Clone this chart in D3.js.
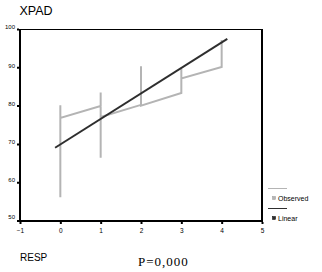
<!DOCTYPE html>
<html>
<head>
<meta charset="utf-8">
<script src="https://cdn.jsdelivr.net/npm/d3@7"></script>
<style>
  body { margin: 0; background: #fff; }
  svg { display: block; }
</style>
</head>
<body>
<div id="chart"></div>
<script>
// observed values, in the order SPSS joins them
const obsX = [0, 0, 0, 1, 1, 1, 1, 2, 2, 2, 3, 3, 3, 4, 4];
const obsY = [56.1, 80.1, 76.8, 79.9, 83.4, 66.4, 77.0, 80.2, 90.3, 80.0, 83.3, 89.7, 87.1, 90.1, 97.1];

// linear fit, end points
const fitX = [-0.13, 4.14];
const fitY = [69.0, 97.4];

const xTicks = [-1, 0, 1, 2, 3, 4, 5];
const yTicks = [50, 60, 70, 80, 90, 100];

const width = 322;
const height = 272;
const plot = { l: 20, r: 262, t: 29, b: 221 };

const svg = d3
  .select('#chart')
  .append('svg')
  .attr('width', width)
  .attr('height', height);

const x = d3.scaleLinear().domain([-1, 5]).range([plot.l, plot.r]);
const y = d3.scaleLinear().domain([50, 100]).range([plot.b - 0.5, plot.t]);

// frame: thin top, thick other sides
svg
  .append('line')
  .attr('x1', plot.l)
  .attr('x2', plot.r)
  .attr('y1', plot.t + 0.5)
  .attr('y2', plot.t + 0.5)
  .attr('stroke', '#000')
  .attr('stroke-width', 1);

svg
  .append('path')
  .attr('d', `M${plot.l},${plot.t}V${plot.b}H${plot.r}V${plot.t}`)
  .attr('fill', 'none')
  .attr('stroke', '#000')
  .attr('stroke-width', 2);

const tickFont = 'Liberation Sans, Arial, sans-serif';

// y axis
const yAxis = svg.append('g').attr('transform', `translate(${plot.l - 1},0)`)
  .call(d3.axisLeft(y).tickValues(yTicks).tickFormat(d3.format('d')).tickSize(2).tickPadding(2));
yAxis.select('.domain').remove();
yAxis.selectAll('.tick line').attr('stroke-width', 2);
yAxis.selectAll('text')
  .attr('font-family', tickFont)
  .attr('font-size', 6)
  .attr('dy', '-0.05em');
yAxis.selectAll('.tick').filter((d) => d === 50).select('text').attr('dy', '-0.4em');

// x axis
const xAxis = svg.append('g').attr('transform', `translate(0,${plot.b + 1})`)
  .call(d3.axisBottom(x).tickValues(xTicks).tickFormat(d3.format('d')).tickSize(2).tickPadding(4));
xAxis.select('.domain').remove();
xAxis.selectAll('.tick line').attr('stroke-width', 2);
xAxis.selectAll('text')
  .attr('font-family', tickFont)
  .attr('font-size', 6.5);

// observed
const obs = obsX.map((d, i) => [d, obsY[i]]);
svg
  .append('path')
  .attr('d', d3.line().x((d) => x(d[0])).y((d) => y(d[1]))(obs))
  .attr('fill', 'none')
  .attr('stroke', '#b4b4b4')
  .attr('stroke-width', 2)
  .attr('stroke-linejoin', 'miter');

// linear fit
const fit = fitX.map((d, i) => [d, fitY[i]]);
svg
  .append('path')
  .attr('d', d3.line().x((d) => x(d[0])).y((d) => y(d[1]))(fit))
  .attr('fill', 'none')
  .attr('stroke', '#2e2e2e')
  .attr('stroke-width', 2);

// titles
svg.append('text')
  .attr('x', 19.5)
  .attr('y', 15)
  .attr('font-family', tickFont)
  .attr('font-size', 12.5)
  .text('XPAD');

svg.append('text')
  .attr('x', 20)
  .attr('y', 261)
  .attr('font-family', tickFont)
  .attr('font-size', 10)
  .text('RESP');

svg.append('text')
  .attr('x', 138)
  .attr('y', 266)
  .attr('font-family', 'Liberation Serif, Times New Roman, serif')
  .attr('font-size', 13)
  .attr('letter-spacing', 1)
  .text('P=0,000');

// legend
const legendItems = [
  { name: 'Observed', color: '#b4b4b4', y: 188.5 },
  { name: 'Linear', color: '#2e2e2e', y: 208.5 },
];
const legend = svg.append('g');
legendItems.forEach((d) => {
  legend.append('line')
    .attr('x1', 268).attr('x2', 287)
    .attr('y1', d.y).attr('y2', d.y)
    .attr('stroke', d.color)
    .attr('stroke-width', 1);
  legend.append('rect')
    .attr('x', 272.5).attr('y', d.y + 8)
    .attr('width', 3).attr('height', 3)
    .attr('fill', d.color)
    .attr('stroke', d.name === 'Linear' ? '#000' : '#999')
    .attr('stroke-width', 0.5);
  legend.append('text')
    .attr('x', 278)
    .attr('y', d.y + 12)
    .attr('font-family', tickFont)
    .attr('font-size', 7)
    .text(d.name);
});
</script>
</body>
</html>
